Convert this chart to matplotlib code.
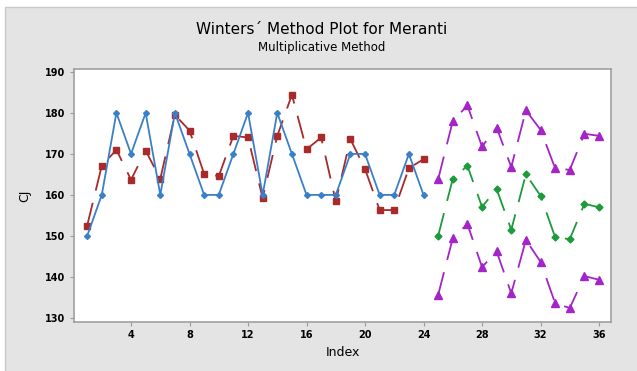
import numpy as np
import matplotlib.pyplot as plt
from matplotlib.patches import Rectangle

### Data
idx_act = np.arange(1, 25)
actual = [150, 160, 180, 170, 180, 160, 180, 170, 160, 160, 170, 180,
          160, 180, 170, 160, 160, 160, 170, 170, 160, 160, 170, 160]
fits = [152.5, 167.1, 171.0, 163.7, 170.8, 163.9, 179.5, 175.7, 165.1, 164.6, 174.4, 174.0,
        159.2, 174.4, 184.4, 171.1, 174.0, 158.4, 173.6, 166.3, 156.3, 156.3, 166.5, 168.7]

idx_fc = np.arange(25, 37)
forecast = [150.0, 163.9, 167.1, 157.1, 161.4, 151.5, 165.0, 159.8, 149.7, 149.2, 157.8, 157.0]
upper = [163.8, 178.0, 181.8, 171.8, 176.4, 166.8, 180.6, 175.9, 166.5, 166.1, 174.9, 174.4]
lower = [135.6, 149.4, 152.9, 142.4, 146.2, 136.0, 149.0, 143.7, 133.6, 132.4, 140.2, 139.3]

xticks = np.arange(4, 37, 4)
yticks = np.arange(130, 191, 10)

### Figure
fig = plt.figure(figsize=(6.37, 3.71), dpi=100, facecolor='white')
fig.patches.append(Rectangle((5/637, -0.05), 1, 1.05 - 7/371, transform=fig.transFigure,
                             facecolor='#e4e4e4', edgecolor='#c8c8c8', lw=1.0, zorder=-1))
ax = fig.add_axes([74/637, 1 - 322/371, (611 - 74)/637, (322 - 69)/371])

dash = (0, (13, 7))
ax.plot(idx_act, actual, color='#3a80c8', lw=1.3, marker='D', ms=3, zorder=4)
ax.plot(idx_act, fits, color='#a82a2a', lw=1.3, ls=dash, marker='s', ms=4.5, zorder=3)
ax.plot(idx_fc, forecast, color='#1c9a3c', lw=1.3, ls=dash, marker='D', ms=3.5, zorder=3)
ax.plot(idx_fc, upper, color='#a424c8', lw=1.3, ls=dash, marker='^', ms=5.5, zorder=3)
ax.plot(idx_fc, lower, color='#a424c8', lw=1.3, ls=dash, marker='^', ms=5.5, zorder=3)

ax.set_xlim(0.1, 36.82)
ax.set_ylim(129.0, 190.7)
ax.set_xticks(xticks)
ax.set_yticks(yticks)
ax.tick_params(labelsize=7, length=3, color='#999999', pad=3)
for lbl in ax.get_xticklabels() + ax.get_yticklabels():
    lbl.set_fontweight('bold')
for s in ax.spines.values():
    s.set_color('#a0a0a0')
    s.set_linewidth(1.2)

ax.set_xlabel('Index', fontsize=9, labelpad=4)
ax.set_ylabel('CJ', fontsize=9, labelpad=10)

fig.text(322/637, 1 - 30/371, 'Winters\u00b4 Method Plot for Meranti', ha='center', va='center', fontsize=11)
fig.text(322/637, 1 - 47/371, 'Multiplicative Method', ha='center', va='center', fontsize=8.5)

fig.savefig('out.png', dpi=100, facecolor=fig.get_facecolor())
plt.close(fig)
